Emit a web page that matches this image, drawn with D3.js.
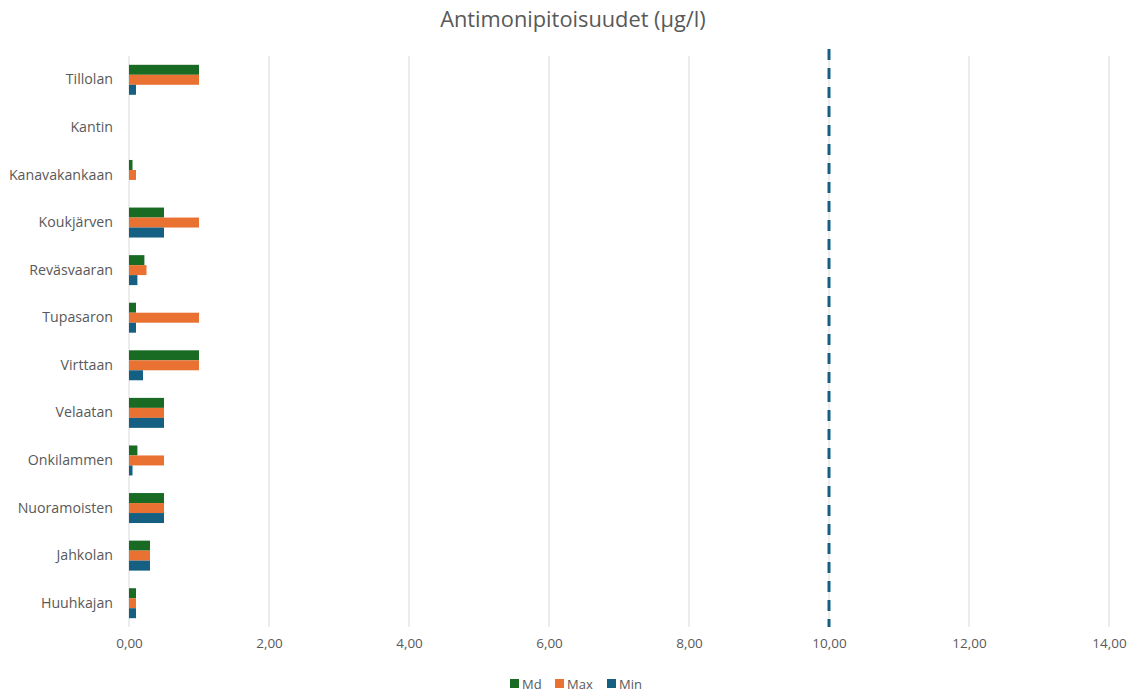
<!DOCTYPE html>
<html>
<head>
<meta charset="utf-8">
<script src="https://cdn.jsdelivr.net/npm/d3@7"></script>
<style>
  body { margin: 0; background: #fff; }
  svg { display: block; font-family: "Open Sans", "Liberation Sans", sans-serif; }
</style>
</head>
<body>
<svg id="chart" width="1141" height="697"></svg>
<script>
// Sampling sites, listed top to bottom
const sites = ["Tillolan", "Kantin", "Kanavakankaan", "Koukjärven", "Reväsvaaran", "Tupasaron",
               "Virttaan", "Velaatan", "Onkilammen", "Nuoramoisten", "Jahkolan", "Huuhkajan"];
// Antimony concentrations (µg/l); null = no measurement
const md  = [1.0, null, 0.05, 0.5, 0.22, 0.1, 1.0, 0.5, 0.12, 0.5, 0.3, 0.1];
const max = [1.0, null, 0.1,  1.0, 0.25, 1.0, 1.0, 0.5, 0.5,  0.5, 0.3, 0.1];
const min = [0.1, null, null, 0.5, 0.12, 0.1, 0.2, 0.5, 0.05, 0.5, 0.3, 0.1];
const seriesNames = ["Md", "Max", "Min"];
const xTicks = [0, 2, 4, 6, 8, 10, 12, 14];
const limitValue = 10; // guideline limit

const colors = { Md: "#196B24", Max: "#E97132", Min: "#156082" };
const seriesData = { Md: md, Max: max, Min: min };

const svg = d3.select("#chart");
const plot = { left: 129, right: 1109, top: 56, bottom: 627 };

const x = d3.scaleLinear().domain([0, 14]).range([plot.left, plot.right]);
const y = d3.scaleBand().domain(sites).range([plot.top, plot.bottom]).paddingInner(0.37).paddingOuter(0.185);
const ySub = d3.scaleBand().domain(seriesNames).range([0, y.bandwidth()]);

// Title
svg.append("text")
  .attr("x", 573).attr("y", 27)
  .attr("text-anchor", "middle")
  .attr("fill", "#595959")
  .attr("font-size", 21.8)
  .text("Antimonipitoisuudet (µg/l)");

// Vertical gridlines
svg.append("g").selectAll("line").data(xTicks).join("line")
  .attr("x1", d => x(d)).attr("x2", d => x(d))
  .attr("y1", plot.top).attr("y2", plot.bottom)
  .attr("stroke", "#d9d9d9").attr("stroke-width", 1);

// X axis tick labels
const xAxis = d3.axisBottom(x).tickValues(xTicks)
  .tickFormat(d => d3.format(".2f")(d).replace(".", ","))
  .tickSize(0).tickPadding(11);
const gx = svg.append("g").attr("transform", `translate(0,${plot.bottom})`).call(xAxis);
gx.select(".domain").remove();
gx.selectAll("text").attr("fill", "#595959").attr("font-size", 13.5)
  .attr("font-family", "'Open Sans', sans-serif");

// Y axis category labels
const yAxis = d3.axisLeft(y).tickSize(0).tickPadding(16);
const gy = svg.append("g").attr("transform", `translate(${plot.left},0)`).call(yAxis);
gy.select(".domain").remove();
gy.selectAll("text").attr("fill", "#595959").attr("font-size", 14.2)
  .attr("font-family", "'Open Sans', sans-serif");

// Bars
seriesNames.forEach(name => {
  svg.append("g").selectAll("rect")
    .data(sites.map((s, i) => ({ site: s, v: seriesData[name][i] })).filter(d => d.v != null))
    .join("rect")
    .attr("x", x(0))
    .attr("y", d => y(d.site) + ySub(name))
    .attr("width", d => x(d.v) - x(0))
    .attr("height", ySub.bandwidth())
    .attr("fill", colors[name]);
});

// Guideline limit
svg.append("line")
  .attr("x1", x(limitValue)).attr("x2", x(limitValue))
  .attr("y1", 49).attr("y2", plot.bottom)
  .attr("stroke", "#156082").attr("stroke-width", 3)
  .attr("stroke-dasharray", "11,8");

// Legend
const legend = svg.append("g").attr("transform", "translate(0,684)");
const legendItems = [
  { name: "Md", x: 510 },
  { name: "Max", x: 555 },
  { name: "Min", x: 607 }
];
legendItems.forEach(it => {
  legend.append("rect").attr("x", it.x).attr("y", -5).attr("width", 9).attr("height", 9)
    .attr("fill", colors[it.name]);
  legend.append("text").attr("x", it.x + 12).attr("y", 0).attr("dy", "0.35em")
    .attr("fill", "#595959").attr("font-size", 13).text(it.name);
});
</script>
</body>
</html>
